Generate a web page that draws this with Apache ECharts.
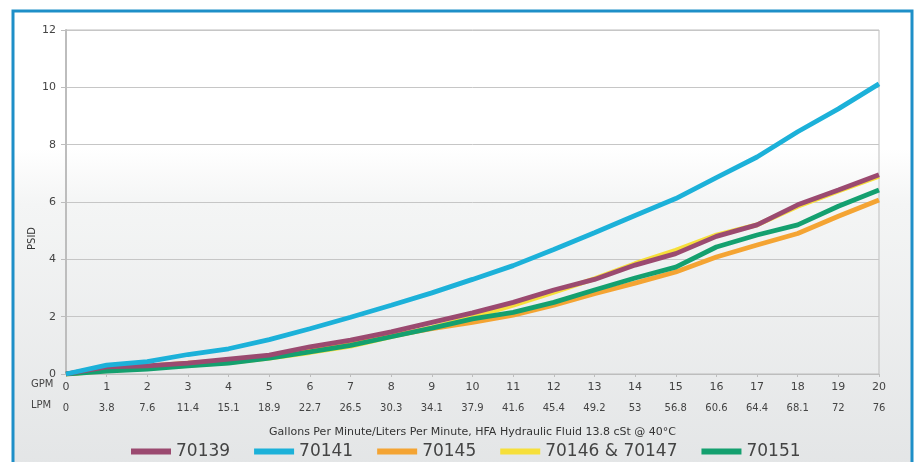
<!DOCTYPE html>
<html><head><meta charset="utf-8">
<script src="https://cdn.jsdelivr.net/npm/echarts@6/dist/echarts.min.js"></script>
<style>html,body{margin:0;padding:0;background:#fff}#c{width:916px;height:462px}</style>
</head><body><div id="c"></div>
<script>
const gpm = ['0','1','2','3','4','5','6','7','8','9','10','11','12','13','14','15','16','17','18','19','20'];
const lpm = ['0','3.8','7.6','11.4','15.1','18.9','22.7','26.5','30.3','34.1','37.9','41.6','45.4','49.2','53','56.8','60.6','64.4','68.1','72','76'];
const s70139 = [0,0.25,0.28,0.38,0.52,0.66,0.95,1.18,1.47,1.8,2.13,2.5,2.93,3.3,3.8,4.2,4.8,5.2,5.9,6.42,6.95];
const s70141 = [0,0.31,0.43,0.68,0.88,1.2,1.58,1.98,2.4,2.83,3.3,3.78,4.34,4.93,5.53,6.12,6.85,7.57,8.45,9.25,10.12];
const s70145 = [0,0.15,0.27,0.38,0.47,0.6,0.82,1.05,1.33,1.58,1.8,2.05,2.4,2.8,3.17,3.56,4.08,4.5,4.9,5.5,6.07];
const s70146 = [0,0.12,0.2,0.3,0.4,0.55,0.75,0.97,1.3,1.62,1.98,2.4,2.85,3.32,3.85,4.32,4.85,5.2,5.85,6.38,6.9];
const s70151 = [0,0.1,0.17,0.28,0.38,0.55,0.77,1.0,1.3,1.6,1.92,2.15,2.5,2.93,3.35,3.73,4.43,4.85,5.2,5.85,6.42];
const yTicks = [0,2,4,6,8,10,12];

const chart = echarts.init(document.getElementById('c'));
const font = 'DejaVu Sans';
function line(name, data, color, z) {
  return {name, type:'line', data, symbol:'none', smooth:false, z,
    lineStyle:{color, width:4.8}, itemStyle:{color}};
}
chart.setOption({
  animation:false,
  graphic:[
    {type:'rect', z:-10, silent:true, shape:{x:13,y:11,width:899,height:460},
     style:{fill:new echarts.graphic.LinearGradient(0,0,0,1,[
       {offset:0,color:'#ffffff'},{offset:0.3,color:'#ffffff'},{offset:0.42,color:'#f4f5f5'},{offset:1,color:'#e3e5e6'}]),
       stroke:'#1e8fc8', lineWidth:3}},
    {type:'text', left:31, top:379, z:10, style:{text:'GPM', font:'10px '+font, fill:'#444'}},
    {type:'text', left:31, top:400, z:10, style:{text:'LPM', font:'10px '+font, fill:'#444'}},
    {type:'text', z:10, x:27, y:250, rotation:Math.PI/2, style:{text:'PSID', font:'10px '+font, fill:'#333'}}
  ],
  legend:{
    bottom:-3, left:126, itemGap:24, itemWidth:40, itemHeight:6, icon:'rect',
    data:['70139','70141','70145','70146 & 70147','70151'],
    textStyle:{fontFamily:font, fontSize:17, color:'#444'}
  },
  grid:{left:66, right:37, top:30, bottom:88, show:true, borderColor:'#bdbdbd', borderWidth:1, backgroundColor:'transparent'},
  xAxis:{
    type:'category', data:gpm, boundaryGap:false,
    name:'Gallons Per Minute/Liters Per Minute, HFA Hydraulic Fluid 13.8 cSt @ 40°C',
    nameLocation:'middle', nameGap:53,
    nameTextStyle:{fontFamily:font, fontSize:11, color:'#333'},
    axisLine:{lineStyle:{color:'#bdbdbd'}},
    axisTick:{show:true, alignWithLabel:true, length:3, lineStyle:{color:'#bdbdbd'}},
    axisLabel:{interval:0, margin:3,
      formatter:(v,i)=>'{a|'+gpm[i]+'}\n{b|'+lpm[i]+'}',
      rich:{a:{fontFamily:font, fontSize:11, color:'#444', lineHeight:21},
            b:{fontFamily:font, fontSize:10, color:'#444', lineHeight:21}}}
  },
  yAxis:{
    type:'value', min:0, max:12, interval:2,
    axisLine:{show:true, lineStyle:{color:'#bdbdbd', width:2}},
    axisTick:{show:true, length:5, lineStyle:{color:'#bdbdbd'}},
    axisLabel:{fontFamily:font, fontSize:11, color:'#444', margin:10,
      formatter:v=>yTicks.includes(v)?String(v):''},
    splitLine:{lineStyle:{color:'#c6c6c6'}}
  },
  series:[
    line('70146 & 70147', s70146, '#f6df3a', 1),
    line('70145', s70145, '#f4a433', 2),
    line('70151', s70151, '#14a06f', 3),
    line('70139', s70139, '#9b4a70', 4),
    line('70141', s70141, '#1cb1d9', 5)
  ]
});
</script></body></html>
